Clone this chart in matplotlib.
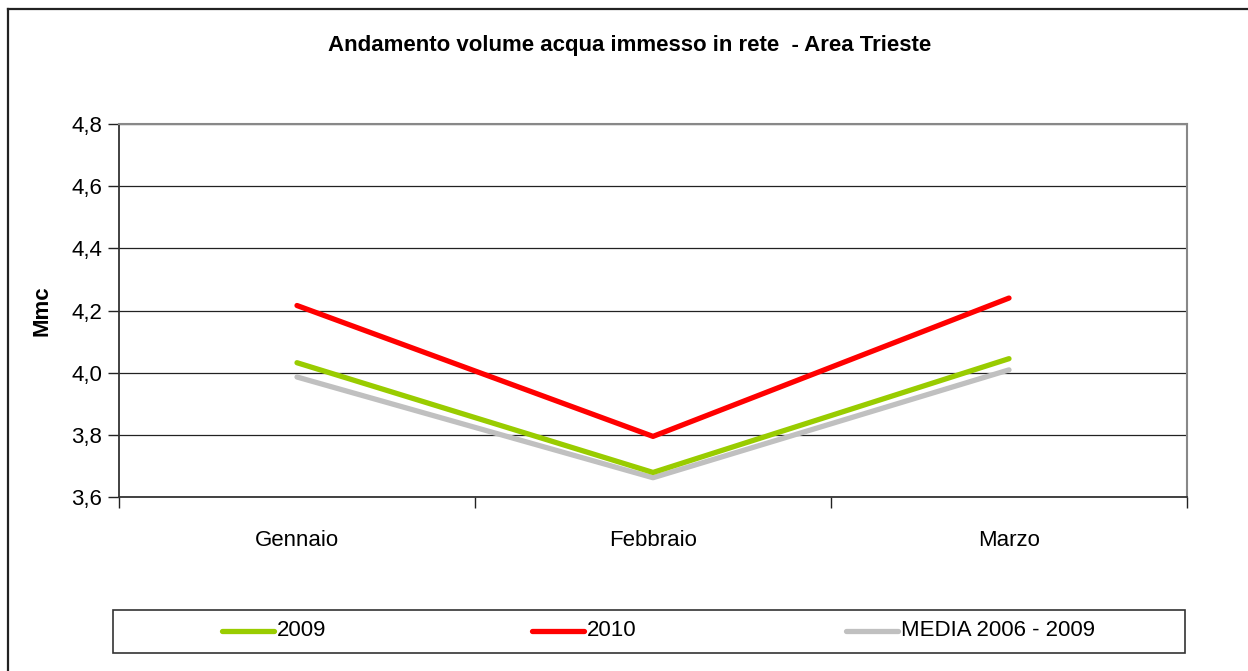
import matplotlib
matplotlib.use("Agg")
import matplotlib.pyplot as plt
from matplotlib.lines import Line2D
from matplotlib.patches import Rectangle
import matplotlib.font_manager as fm

names = {f.name for f in fm.fontManager.ttflist}
fam = ['Liberation Sans Narrow', 'Liberation Sans', 'DejaVu Sans'] if 'Liberation Sans Narrow' in names else ['Liberation Sans', 'DejaVu Sans']
plt.rcParams['font.family'] = fam

categories = ["Gennaio", "Febbraio", "Marzo"]
series_names = ["2009", "2010", "MEDIA 2006 - 2009"]
values_2009 = [4.032, 3.679, 4.045]
values_2010 = [4.216, 3.795, 4.240]
values_media = [3.986, 3.662, 4.009]
colors = ["#99CC00", "#FF0000", "#C0C0C0"]
yticks = [3.6, 3.8, 4.0, 4.2, 4.4, 4.6, 4.8]
ytick_labels = ["3,6", "3,8", "4,0", "4,2", "4,4", "4,6", "4,8"]

W, H = 1248, 671
fig = plt.figure(figsize=(W / 100, H / 100), dpi=100)

# outer chart frame (left and top visible)
fig.add_artist(Line2D([8 / W, 8 / W], [0, 1 - 9 / H], transform=fig.transFigure, color="#222222", lw=1.6))
fig.add_artist(Line2D([8 / W, 1], [1 - 9 / H, 1 - 9 / H], transform=fig.transFigure, color="#222222", lw=1.6))

ax = fig.add_axes([119 / W, 1 - 497 / H, 1068 / W, 373 / H])
x = [0, 1, 2]
ax.plot(x, values_media, color=colors[2], lw=3.8, solid_capstyle="round", zorder=3)
ax.plot(x, values_2009, color=colors[0], lw=3.8, solid_capstyle="round", zorder=4)
ax.plot(x, values_2010, color=colors[1], lw=3.8, solid_capstyle="round", zorder=5)

ax.set_xlim(-0.5, 2.5)
ax.set_ylim(3.6, 4.8)
ax.set_yticks(yticks)
ax.set_yticklabels(ytick_labels, fontsize=16)
ax.set_xticks([-0.5, 0.5, 1.5, 2.5])
ax.set_xticklabels([])
ax.set_xticks(x, minor=True)
ax.set_xticklabels(categories, minor=True, fontsize=16)
ax.tick_params(axis="x", which="minor", length=0, pad=24)
ax.tick_params(axis="x", which="major", length=8, width=1, color="#222222", direction="out")
ax.tick_params(axis="y", length=8, width=1, color="#222222", direction="out", pad=4)
ax.grid(axis="y", color="#222222", lw=0.9)
ax.set_axisbelow(True)
for s in ["top", "right"]:
    ax.spines[s].set_color("#888888")
    ax.spines[s].set_linewidth(1.5)
for s in ["left", "bottom"]:
    ax.spines[s].set_color("#333333")
    ax.spines[s].set_linewidth(1.3)
ax.set_ylabel("Mmc", fontsize=16, fontweight="bold", labelpad=14)

fig.text(630 / W, 1 - 46 / H, "Andamento volume acqua immesso in rete  - Area Trieste",
         ha="center", va="center", fontsize=16, fontweight="bold")

# legend box
fig.add_artist(Rectangle((113 / W, 1 - 653 / H), (1185 - 113) / W, (653 - 610) / H,
                         transform=fig.transFigure, fill=False, ec="#333333", lw=1.2))
leg_x = [222, 532, 846]
leg_w = 52
for lx, c, n in zip(leg_x, colors, series_names):
    yy = 1 - 631 / H
    fig.add_artist(Line2D([lx / W, (lx + leg_w) / W], [yy, yy], transform=fig.transFigure,
                          color=c, lw=3.8, solid_capstyle="round"))
    fig.text((lx + leg_w + 3) / W, yy, n, ha="left", va="center", fontsize=16)

fig.savefig("out.png", dpi=100)
